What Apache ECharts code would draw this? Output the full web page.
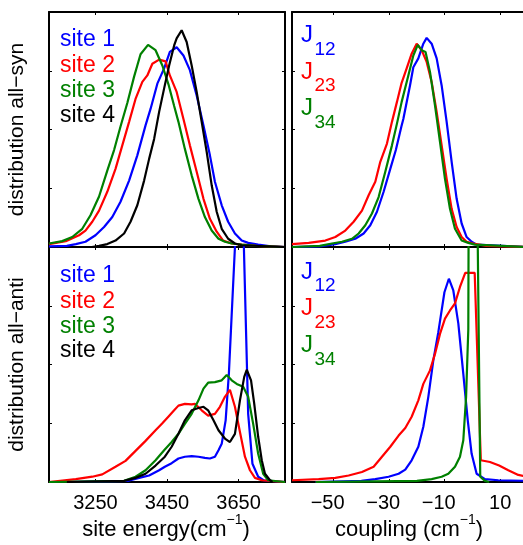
<!DOCTYPE html>
<html>
<head>
<meta charset="utf-8">
<script src="https://cdn.jsdelivr.net/npm/echarts@6/dist/echarts.min.js"></script>
<style>
  html, body { margin: 0; padding: 0; background: #fff; }
  #chart { width: 523px; height: 545px; }
</style>
</head>
<body>
<div id="chart"></div>
<script>
// ---------- tick labels / names ----------
const energyTicks = [3250, 3450, 3650];
const couplingTicks = [-50, -30, -10, 10];
const siteNames = ['site 1', 'site 2', 'site 3', 'site 4'];
const couplingNames = ['12', '23', '34'];

// ---------- all-syn: site energy distributions (cm^-1, density) ----------
const synE1 = [3120, 3170, 3195, 3222, 3250, 3274, 3297, 3320, 3344, 3367, 3390, 3404, 3423, 3442, 3458, 3477, 3496, 3514, 3533, 3552, 3570, 3584, 3603, 3621, 3640, 3659, 3677, 3705, 3740, 3780];
const synP1 = [0.01, 0.02, 0.05, 0.09, 0.20, 0.34, 0.51, 0.77, 1.13, 1.56, 2.07, 2.35, 2.78, 3.04, 3.32, 3.40, 3.26, 3.01, 2.58, 2.07, 1.56, 1.11, 0.71, 0.43, 0.23, 0.11, 0.07, 0.04, 0.01, 0];
const synE2 = [3120, 3167, 3204, 3222, 3241, 3260, 3283, 3306, 3325, 3344, 3362, 3381, 3395, 3409, 3428, 3446, 3458, 3477, 3496, 3514, 3533, 3552, 3570, 3589, 3607, 3631, 3659, 3700, 3780];
const synP2 = [0.05, 0.10, 0.20, 0.28, 0.43, 0.62, 0.94, 1.33, 1.73, 2.13, 2.52, 2.81, 2.92, 3.12, 3.19, 3.16, 2.92, 2.64, 2.18, 1.73, 1.28, 0.82, 0.48, 0.26, 0.11, 0.06, 0.04, 0.02, 0];
const synE3 = [3120, 3157, 3185, 3213, 3236, 3260, 3283, 3302, 3320, 3339, 3358, 3376, 3397, 3418, 3437, 3455, 3470, 3482, 3500, 3519, 3538, 3556, 3575, 3594, 3612, 3631, 3659, 3700, 3780];
const synP3 = [0.06, 0.10, 0.17, 0.31, 0.54, 0.86, 1.30, 1.65, 2.05, 2.45, 2.90, 3.28, 3.44, 3.35, 3.09, 2.75, 2.40, 2.13, 1.67, 1.22, 0.82, 0.51, 0.28, 0.14, 0.09, 0.06, 0.04, 0.02, 0];
const synE4 = [3240, 3260, 3283, 3306, 3330, 3348, 3367, 3386, 3400, 3414, 3428, 3442, 3456, 3470, 3477, 3491, 3505, 3519, 3533, 3547, 3561, 3575, 3589, 3603, 3621, 3640, 3659, 3780];
const synP4 = [0, 0.02, 0.05, 0.11, 0.23, 0.43, 0.71, 1.13, 1.50, 1.84, 2.30, 2.70, 3.09, 3.43, 3.55, 3.69, 3.49, 3.09, 2.64, 2.13, 1.62, 1.05, 0.60, 0.31, 0.14, 0.06, 0.03, 0];

// ---------- all-syn: coupling distributions ----------
const synC12 = [-65, -55, -49.4, -45.8, -42.2, -39.2, -36.8, -34.4, -32, -29.6, -27.6, -25.6, -24.9, -22.5, -21.3, -19.5, -17.7, -16.5, -14.7, -12.9, -11.1, -9.3, -7.5, -5.7, -3.9, -2.1, -0.3, 1.5, 20];
const synJ12 = [0, 0.01, 0.05, 0.09, 0.14, 0.23, 0.37, 0.60, 0.94, 1.33, 1.65, 2.05, 2.18, 2.75, 3.06, 3.21, 3.46, 3.56, 3.46, 3.21, 2.75, 2.13, 1.45, 0.82, 0.40, 0.17, 0.09, 0.04, 0];
const synC23 = [-65, -59, -53, -49.4, -45.8, -42.8, -39.8, -37.4, -35, -33.2, -30.8, -29, -27.2, -25.6, -23.7, -21.9, -20.1, -18.3, -16.5, -14.7, -12.9, -11.1, -9.3, -7.5, -5.7, -3.9, -2.1, 0.3, 5, 20];
const synJ23 = [0.05, 0.07, 0.11, 0.17, 0.28, 0.43, 0.62, 0.88, 1.11, 1.45, 1.76, 2.13, 2.47, 2.78, 3.04, 3.29, 3.46, 3.35, 3.15, 2.81, 2.30, 1.73, 1.16, 0.65, 0.34, 0.17, 0.09, 0.06, 0.02, 0];
const synC34 = [-65, -55, -50.6, -47, -43.4, -41, -38.6, -36.2, -33.8, -31.4, -29, -27.2, -25.5, -23.1, -21.3, -19.7, -18.3, -16.9, -15.3, -13.5, -11.7, -9.9, -8.1, -6.3, -3.9, -1.5, 0.9, 20];
const synJ34 = [0, 0.02, 0.06, 0.09, 0.14, 0.23, 0.37, 0.57, 0.85, 1.28, 1.73, 2.10, 2.47, 2.92, 3.26, 3.44, 3.35, 3.32, 2.98, 2.41, 1.79, 1.16, 0.65, 0.31, 0.11, 0.07, 0.04, 0];

// ---------- all-anti: site energy distributions ----------
const antiE1 = [3170, 3340, 3372, 3400, 3428, 3444, 3463, 3482, 3500, 3519, 3538, 3556, 3570, 3584, 3594, 3603, 3614, 3623, 3631, 3640, 3646, 3658, 3665, 3671, 3677, 3689, 3705, 3720, 3780];
const antiP1 = [0, 0.02, 0.07, 0.11, 0.20, 0.26, 0.32, 0.40, 0.43, 0.44, 0.43, 0.41, 0.40, 0.43, 0.54, 0.65, 1.05, 1.84, 2.86, 4.0, 5.2, 5.2, 4.0, 2.58, 1.16, 0.31, 0.09, 0.03, 0];
const antiE2 = [3120, 3195, 3241, 3269, 3306, 3334, 3362, 3390, 3418, 3437, 3455, 3470, 3482, 3500, 3519, 3528, 3547, 3565, 3584, 3598, 3612, 3626, 3640, 3654, 3668, 3682, 3696, 3715, 3780];
const antiP2 = [0, 0.05, 0.09, 0.13, 0.26, 0.36, 0.53, 0.70, 0.88, 1.00, 1.12, 1.22, 1.30, 1.33, 1.32, 1.33, 1.22, 1.13, 1.16, 1.28, 1.45, 1.57, 1.28, 0.85, 0.43, 0.20, 0.07, 0.03, 0];
const antiE3 = [3120, 3330, 3362, 3390, 3418, 3442, 3463, 3482, 3500, 3519, 3538, 3552, 3565, 3584, 3603, 3617, 3631, 3645, 3663, 3677, 3691, 3705, 3719, 3733, 3780];
const antiP3 = [0, 0.02, 0.09, 0.20, 0.37, 0.54, 0.68, 0.82, 0.99, 1.16, 1.39, 1.59, 1.69, 1.70, 1.73, 1.82, 1.73, 1.67, 1.62, 1.45, 0.99, 0.48, 0.14, 0.03, 0];
const antiE4 = [3170, 3330, 3362, 3390, 3418, 3444, 3463, 3482, 3500, 3519, 3538, 3552, 3565, 3580, 3594, 3612, 3626, 3640, 3654, 3666, 3673, 3685, 3694, 3705, 3715, 3724, 3738, 3745];
const antiP4 = [0, 0.02, 0.07, 0.14, 0.28, 0.43, 0.60, 0.82, 1.05, 1.22, 1.26, 1.28, 1.22, 1.05, 0.88, 0.74, 0.68, 0.82, 1.39, 1.79, 1.91, 1.73, 1.33, 0.77, 0.37, 0.14, 0.03, 0];

// ---------- all-anti: coupling distributions ----------
const antiC12 = [-56.5, -40, -35, -30.2, -26.6, -24.2, -21.9, -19.5, -17.7, -15.9, -14.1, -12.3, -10.1, -8.5, -6.9, -5.1, -3.3, -1.7, -0.3, 1.5, 4.5, 9.3, 20];
const antiJ12 = [0, 0.02, 0.05, 0.09, 0.14, 0.21, 0.37, 0.60, 0.94, 1.45, 2.07, 2.55, 3.23, 3.46, 3.26, 2.70, 1.84, 1.05, 0.48, 0.14, 0.05, 0.03, 0.02];
const antiC23 = [-65, -55.4, -49.4, -44.6, -39.8, -35.6, -32.6, -29.6, -26.6, -24.2, -21.9, -19.5, -17.7, -15.3, -13.5, -11.7, -9.9, -8.1, -6.3, -4.5, -2.6, 0.8, 3.0, 6.3, 9.6, 12.9, 16.5, 20];
const antiJ23 = [0.03, 0.05, 0.07, 0.11, 0.17, 0.26, 0.43, 0.60, 0.79, 0.92, 1.11, 1.39, 1.67, 1.90, 2.18, 2.52, 2.78, 2.92, 3.04, 3.32, 3.56, 3.56, 0.37, 0.34, 0.28, 0.20, 0.12, 0.09];
const antiC34 = [-56.5, -20, -14.7, -11.1, -8.7, -6.3, -4.5, -3.3, -2.3, -1.5, -1.1, 0.4, 1.5, 1.8, 2.8, 4.5, 6];
const antiJ34 = [0, 0.02, 0.05, 0.09, 0.14, 0.26, 0.43, 0.71, 1.45, 2.6, 9.0, 11.0, 9.0, 4.5, 0.09, 0.02, 0];

// ---------- styling ----------
const FONT = '"Liberation Sans", Arial, Helvetica, sans-serif';
const COLORS = ['#0000ff', '#ff0000', '#008000', '#000000'];
const ENERGY_RANGE = [3120, 3780];
const COUPLING_RANGE = [-65, 20];
const Y_RANGE = [0, 4];

// panel boxes
const PANEL_W = 236, PANEL_H = 235;
const panels = [
  { left: 49,  top: 12,  range: ENERGY_RANGE,   ticks: energyTicks,   labels: false },
  { left: 292, top: 12,  range: COUPLING_RANGE, ticks: couplingTicks, labels: false },
  { left: 49,  top: 247, range: ENERGY_RANGE,   ticks: energyTicks,   labels: true },
  { left: 292, top: 247, range: COUPLING_RANGE, ticks: couplingTicks, labels: true }
];

const curves = [
  [[synE1, synP1], [synE2, synP2], [synE3, synP3], [synE4, synP4]],
  [[synC12, synJ12], [synC23, synJ23], [synC34, synJ34]],
  [[antiE1, antiP1], [antiE2, antiP2], [antiE3, antiP3], [antiE4, antiP4]],
  [[antiC12, antiJ12], [antiC23, antiJ23], [antiC34, antiJ34]]
];

const frameLine = { show: true, onZero: false, lineStyle: { color: '#000', width: 2 } };
const innerTick = (vals) => ({ show: true, inside: true, length: 3, customValues: vals, lineStyle: { color: '#000', width: 1 } });

const grids = [], xAxes = [], yAxes = [], series = [];
panels.forEach((p, g) => {
  grids.push({ left: p.left, top: p.top, width: PANEL_W, height: PANEL_H, show: false, containLabel: false, outerBoundsMode: 'none' });
  ['bottom', 'top'].forEach((pos) => {
    xAxes.push({
      type: 'value', gridIndex: g, position: pos, min: p.range[0], max: p.range[1],
      axisLine: frameLine, axisTick: innerTick(p.ticks), splitLine: { show: false },
      axisLabel: {
        show: pos === 'bottom' && p.labels, customValues: p.ticks, margin: 11,
        fontSize: 20, fontFamily: FONT, color: '#000',
        formatter: (v) => v < 0 ? '{n|\u2212' + Math.abs(v) + '}' : String(v),
        rich: { n: { fontSize: 20, fontFamily: FONT, color: '#000', padding: [0, 12, 0, 0] } }
      }
    });
  });
  ['left', 'right'].forEach((pos) => {
    yAxes.push({
      type: 'value', gridIndex: g, position: pos, min: Y_RANGE[0], max: Y_RANGE[1], interval: 1,
      axisLine: frameLine, axisTick: { show: true, inside: true, length: 3, lineStyle: { color: '#000', width: 1 } },
      axisLabel: { show: false }, splitLine: { show: false }
    });
  });
  curves[g].forEach(([xs, ys], k) => {
    series.push({
      type: 'line', xAxisIndex: 2 * g, yAxisIndex: 2 * g,
      data: xs.map((x, i) => [x, ys[i]]),
      symbol: 'none', showSymbol: false, clip: true, silent: true, z: 3 + k,
      lineStyle: { color: COLORS[k], width: 2.2 }
    });
  });
});

// ---------- text ----------
const mctx = document.createElement('canvas').getContext('2d');
function textWidth(s, size) { mctx.font = size + 'px ' + FONT; return mctx.measureText(s).width; }
function label(x, baseline, text, size, color, align) {
  return {
    type: 'text', x: x, y: baseline - 0.35 * size, silent: true, z: 100,
    style: { text: text, fontSize: size, fontFamily: FONT, fill: color, align: align || 'left', verticalAlign: 'middle' }
  };
}
function titleWithSup(cx, baseline, main, sup, tail) {
  const w1 = textWidth(main, 22), w2 = textWidth(sup, 14), w3 = textWidth(tail, 22);
  const x0 = cx - (w1 + w2 + w3) / 2;
  return [
    label(x0, baseline, main, 22, '#000'),
    label(x0 + w1, baseline - 13, sup, 14, '#000'),
    label(x0 + w1 + w2, baseline, tail, 22, '#000')
  ];
}
function yTitle(cy, text) {
  return {
    type: 'text', x: 17, y: cy, rotation: Math.PI / 2, silent: true, z: 100,
    style: { text: text, fontSize: 21, fontFamily: FONT, fill: '#000', align: 'center', verticalAlign: 'middle' }
  };
}

const graphics = [];
const siteBaseTop = [48, 73.7, 98.7, 123.7];
const siteBaseBottom = [283.7, 309.3, 334.3, 358.7];
siteNames.forEach((s, k) => {
  graphics.push(label(60, siteBaseTop[k], s, 23, COLORS[k]));
  graphics.push(label(60, siteBaseBottom[k], s, 23, COLORS[k]));
});
const jBaseTop = [43.7, 80.3, 117];
const jBaseBottom = [280.3, 317, 353.7];
couplingNames.forEach((sub, k) => {
  [jBaseTop[k], jBaseBottom[k]].forEach((b) => {
    graphics.push(label(301, b, 'J', 24, COLORS[k]));
    graphics.push(label(314.5, b + 12.5, sub, 19, COLORS[k]));
  });
});
graphics.push(yTitle(129.5, 'distribution all\u2212syn'));
graphics.push(yTitle(364.5, 'distribution all\u2212anti'));
graphics.push(...titleWithSup(166, 537.7, 'site energy(cm', '\u22121', ')'));
graphics.push(...titleWithSup(409, 537.7, 'coupling (cm', '\u22121', ')'));

const chart = echarts.init(document.getElementById('chart'), null, { renderer: 'canvas' });
chart.setOption({
  animation: false,
  backgroundColor: '#fff',
  grid: grids,
  xAxis: xAxes,
  yAxis: yAxes,
  series: series,
  graphic: graphics
});
</script>
</body>
</html>
